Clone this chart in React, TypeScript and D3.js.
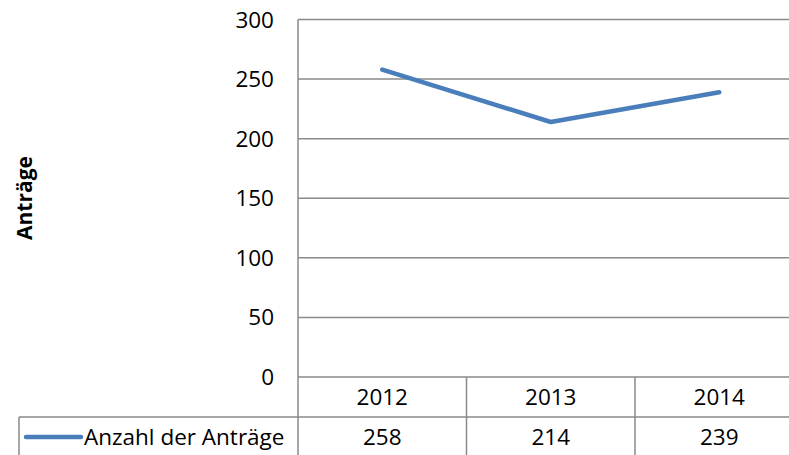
import React from "react";
import * as d3 from "d3";

const years = ["2012", "2013", "2014"];
const antraege = [258, 214, 239];
const yTicks = [0, 50, 100, 150, 200, 250, 300];
const seriesName = "Anzahl der Anträge";
const axisTitle = "Anträge";

const W = 789;
const H = 455;
const font = "'Open Sans', sans-serif";
const grid = "#8a8a8a";
const blue = "#4a7ebb";

const App = () => {
  const left = 298;
  const colW = 168.5;
  const x = d3
    .scaleBand<string>()
    .domain(years)
    .range([left, left + colW * years.length]);
  const y = d3.scaleLinear().domain([0, 300]).range([377, 19.5]);

  const line = d3
    .line<number>()
    .x((_, i) => (x(years[i]) as number) + x.bandwidth() / 2)
    .y((d) => y(d));

  const row1Bottom = 417;
  const tableLeft = 19;

  return (
    <svg
      width={W}
      height={H}
      style={{ position: "absolute", left: 0, top: 0, background: "#fff" }}
    >
      {yTicks.map((t) => (
        <g key={t}>
          <line x1={left} x2={W} y1={y(t)} y2={y(t)} stroke={grid} strokeWidth={1.5} />
          <text
            x={274}
            y={y(t) + 8}
            textAnchor="end"
            fontFamily={font}
            fontSize={22.5}
            fill="#000"
          >
            {t}
          </text>
        </g>
      ))}
      {/* value axis line */}
      <line x1={left} x2={left} y1={19.5} y2={H} stroke={grid} strokeWidth={1.5} />

      {/* data table */}
      <line x1={tableLeft} x2={W} y1={row1Bottom} y2={row1Bottom} stroke={grid} strokeWidth={1.5} />
      <line x1={tableLeft} x2={tableLeft} y1={row1Bottom} y2={H} stroke={grid} strokeWidth={1.5} />
      {years.slice(1).map((yr) => (
        <line
          key={yr}
          x1={x(yr) as number}
          x2={x(yr) as number}
          y1={y(0)}
          y2={H}
          stroke={grid}
          strokeWidth={1.5}
        />
      ))}
      {years.map((yr, i) => (
        <g key={yr} fontFamily={font} fontSize={22.5} textAnchor="middle" fill="#000">
          <text x={(x(yr) as number) + x.bandwidth() / 2} y={405}>
            {yr}
          </text>
          <text x={(x(yr) as number) + x.bandwidth() / 2} y={445}>
            {antraege[i]}
          </text>
        </g>
      ))}
      <line x1={26} x2={81} y1={437} y2={437} stroke={blue} strokeWidth={4.5} strokeLinecap="round" />
      <text x={84} y={445} fontFamily={font} fontSize={22.5} fill="#000">
        {seriesName}
      </text>

      {/* series */}
      <path
        d={line(antraege) || ""}
        fill="none"
        stroke={blue}
        strokeWidth={4.5}
        strokeLinecap="round"
        strokeLinejoin="round"
      />

      <text
        transform={`translate(32,198) rotate(-90)`}
        textAnchor="middle"
        fontFamily={font}
        fontWeight="bold"
        fontSize={21}
        fill="#000"
      >
        {axisTitle}
      </text>
    </svg>
  );
};

export default App;
